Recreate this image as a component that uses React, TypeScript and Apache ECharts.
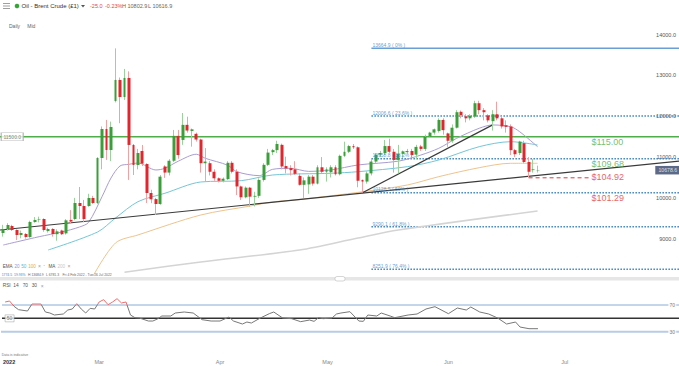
import React, { useEffect, useRef } from 'react';
import * as echarts from 'echarts';

const FONT = '"Liberation Sans", Arial, sans-serif';

// ---------- categories (trading sessions, Saturdays & Good Friday excluded) ----------
const SKIP_DAYS = ['2022-04-15'];
function tradingDays(start: string, count: number): string[] {
  const out: string[] = [];
  const d = new Date(start + 'T00:00:00Z');
  while (out.length < count) {
    const iso = d.toISOString().slice(0, 10);
    if (d.getUTCDay() !== 6 && !SKIP_DAYS.includes(iso)) out.push(iso);
    d.setUTCDate(d.getUTCDate() + 1);
  }
  return out;
}
const categories = tradingDays('2022-02-04', 151);
const MONTHS = ['Jan', 'Feb', 'Mar', 'Apr', 'May', 'Jun', 'Jul', 'Aug', 'Sep', 'Oct', 'Nov', 'Dec'];

// ---------- price data (OHLC) ----------
const opens = [9140,9238,9311,9213,9091,9115,9042,9409,9470,9483, 9189,9238,9110,9200,9130,9460,9483,9875,9801,9801, 9998,9875,10978,11689,11174,12375,12890,12473,12939,11297, 10806,11150,10830,10120,9970,9850,10770,10620,10910,11520, 11420,11790,11640,11570,11430,10850,10850,10640,10480,10420, 10460,10860,10640,10280,10015,10250,10030,10050,10440,10810, 11120,11170,11300,10780,10730,10700,10540,10320,10330,10520, 10350,10750,10640,10630,10750,10580,11030,11130,11270,11240, 10440,10400,10600,10890,11060,11100,11270,11130,10930,11080, 11120,11150,11060,11260,11200,11500,11600,11640,11910,11580, 11400,11720,12110,12000,11950,11990,12320,12150,12020,11880, 12050,11950,11780,11750,11170,11100,11340,10880,10680,10670];
const highs = [9340,9380,9340,9230,9200,9140,9440,9530,9540,9500, 9270,9260,9230,9220,9480,9700,10000,10267,9950,10100, 10050,11000,11750,11910,11870,13665,12950,13160,13100,11320, 11200,11297,10850,10200,10000,10560,10800,10950,11665,11665, 12080,11990,11700,11600,11450,11220,10900,10700,10500,10500, 10900,10900,10700,10300,10280,10270,10150,10480,10850,11200, 11200,11400,11330,11010,10800,10900,10600,10500,10560,10560, 10800,11000,10750,10800,10800,11060,11377,11300,11320,11260, 10450,10650,10950,11100,11150,11420,11450,11200,11300,11160, 11200,11200,11300,11300,11550,11620,11700,11950,11950,11600, 11800,12150,12140,12050,12050,12380,12380,12200,12050,12150, 12357,12000,11900,11800,11200,11400,11400,11000,10950,10790];
const lows = [9050,9200,9190,8968,9010,9000,9020,9390,9400,9170, 9150,9050,8950,9090,9100,9380,9450,9480,9400,9780, 9850,9850,10700,10930,10900,12340,11830,12400,10440,10560, 10700,10780,9875,9870,9580,9830,10490,10550,10880,10960, 11300,11600,11255,11380,10620,10400,10550,10420,10380,10380, 10440,10600,10070,9950,9990,9785,9790,10000,10400,10780, 11050,11100,10700,10600,10550,10560,10300,10000,10100,10300, 10330,10600,10400,10500,10550,10550,11000,11100,11200,10260, 10128,10350,10550,10850,11000,11050,11100,10620,10600,10980, 11080,11000,10950,11150,11150,11480,11550,11600,11550,11250, 11350,11700,11950,11850,11900,11960,12050,11900,11850,11650, 11900,11700,11600,11050,11000,11050,10850,10492,10620,10620];
const closes = [9238,9336,9213,9091,9140,9042,9409,9458,9483,9213, 9238,9115,9180,9110,9450,9420,9875,9801,9483,9998, 9875,10978,11689,11174,11738,12890,12473,12939,11297,10806, 11100,10840,10120,9965,9850,10520,10620,10910,11520,11050, 11790,11650,11680,11430,10850,10890,10640,10480,10420,10470, 10860,10640,10280,10015,10250,10030,10050,10440,10810,11110, 11170,11320,10770,10720,10680,10590,10320,10430,10520,10350, 10750,10640,10700,10750,10580,11030,11130,11270,11240,10420, 10400,10600,10890,11060,11100,11270,11130,10930,11080,11140, 11150,11050,11250,11200,11500,11600,11680,11910,11660,11400, 11720,12100,12030,11950,12010,12320,12150,12100,11900,12050, 11950,11750,11740,11170,11070,11380,10880,10640,10700,10679];

// ---------- moving averages [session index, value] ----------
const ema20 = [[0,8845],[8,9049],[13,9164],[17,9287],[19,9400],[22,10030],[24,10488],[26,10782],[28,10823],[30,10855],[34,10684],[36,10725],[39,10900],[43,11069],[45,10970],[50,10800],[52,10642],[57,10545],[60,10700],[64,10725],[68,10650],[73,10684],[79,10806],[88,10900],[93,11050],[97,11216],[101,11461],[106,11706],[109,11787],[113,11745],[115,11623],[119,11255]];
const ema50 = [[10,8723],[21,9164],[25,9507],[30,9907],[36,10113],[44,10390],[53,10422],[60,10561],[73,10603],[79,10642],[90,10765],[97,10929],[106,11255],[113,11377],[119,11297]];
const ema100 = [[20,8086],[25,8895],[30,9091],[44,9581],[55,9800],[60,9900],[66,9960],[80,10150],[90,10316],[97,10520],[106,10740],[113,10848],[119,10848]];
const ma200 = [[27,8180],[44,8429],[66,8723],[79,9017],[88,9213],[119,9679]];

// ---------- RSI(14) ----------
const rsi14 = [[0,74.5],[1,76],[2,68],[3,63],[5,61],[6,71.5],[8,71.5],[9,59.5],[10,58],[11,55],[13,56.5],[14,62.5],[15,64],[16,72],[17,64],[18,58],[19,65],[20,64],[21,74.5],[22,78],[23,70.5],[24,74.5],[25,79.5],[26,73],[27,74.5],[28,55],[29,51],[30,50.5],[32,46],[33,46],[34,49],[35,53.5],[37,53.5],[38,58],[40,59.5],[42,58],[44,48],[46,46],[48,46],[50,52],[51,46],[53,41.5],[54,44.5],[55,43],[57,50.5],[59,57],[60,59.5],[62,50.5],[64,49.5],[66,45],[68,47.5],[69,45.5],[70,51],[71,49.5],[73,50.5],[74,56.5],[75,58],[77,60],[79,46],[80,45.5],[81,55],[83,53.5],[84,58],[86,53.5],[87,51],[90,55],[92,56.5],[94,64],[96,67.5],[99,57],[101,65.5],[103,62.5],[104,67],[106,59.5],[108,56.5],[110,50.5],[112,41.5],[114,44.5],[115,37],[117,34.5],[119,34.5]];
const rsiLevels = [70, 50, 30];

// ---------- drawn levels ----------
const trendLong = [[-1, 9210], [151, 10909]];
const trendShort = [[80, 10128], [109, 11790]];
const fibValues = [13664.9, 12006.6, 10958.8, 10128.5, 9290.1, 8251.9];
const fibPct = ['0%', '23.6%', '38.2%', '50%', '61.8%', '76.4%'];
const fibStartIdx = 82;
const resistance = 11500;
const swingLow = 10492;
const lastPrice = 10678.6;
const tagValues = [11500, 10968, 10492, 10129];
const tagTexts = ['$115.00', '$109.68', '$104.92', '$101.29'];
const priceTicks = [9000, 10000, 11000, 12000, 13000, 14000];

const GREEN = '#4fae4a';
const RED = '#e2373d';
const FIB = '#3d85c6';
const tagColors = [GREEN, GREEN, RED, RED];
const tagDy = [5.6, 5.6, -0.6, 5];

function txt(x: number, y: number, text: string, fill: string, size: number, weight: string = 'normal') {
  return {
    type: 'text', x, y, silent: true, z: 100,
    style: { text, fill, fontSize: size, fontFamily: FONT, fontWeight: weight, verticalAlign: 'middle' },
  };
}

function hLine(name: string, pts: number[][], color: string, width: number, type: any, z: number, xi = 0) {
  return {
    type: 'line', name, xAxisIndex: xi, yAxisIndex: xi, data: pts, showSymbol: false, silent: true, z,
    lineStyle: { color, width, type },
  };
}

function buildOption() {
  const wickData = opens.map((o, i) => [o, closes[i], lows[i], highs[i]]);
  const bodyData = opens.map((o, i) => [o, closes[i], Math.min(o, closes[i]), Math.max(o, closes[i])]);

  const series: any[] = [];
  series.push(hLine('resistance', [[-1, resistance], [151, resistance]], GREEN, 1.5, 'solid', 1));
  fibValues.forEach((v, i) => {
    series.push(hLine('fib' + i, [[fibStartIdx, v], [151, v]], i === 0 ? '#6a9fd6' : FIB, 1.5, i === 0 ? 'solid' : [1.5, 1.5], 1));
  });
  series.push(hLine('swingLow', [[117, swingLow], [131, swingLow]], RED, 1, [4, 3], 1));
  series.push({ type: 'line', name: 'MA200', data: ma200, showSymbol: false, smooth: 0.3, silent: true, z: 2, lineStyle: { color: '#d4d4d4', width: 1.5 } });
  series.push({ type: 'line', name: 'EMA100', data: ema100, showSymbol: false, smooth: 0.3, silent: true, z: 2, lineStyle: { color: '#eec48c', width: 1 } });
  series.push({ type: 'line', name: 'EMA50', data: ema50, showSymbol: false, smooth: 0.3, silent: true, z: 2, lineStyle: { color: '#74c6d6', width: 1 } });
  series.push({ type: 'line', name: 'EMA20', data: ema20, showSymbol: false, smooth: 0.3, silent: true, z: 2, lineStyle: { color: '#a99dd0', width: 1 } });
  series.push(hLine('trend1', trendLong, '#3a3a3a', 1.2, 'solid', 3));
  series.push(hLine('trend2', trendShort, '#3a3a3a', 1.2, 'solid', 3));
  series.push({
    type: 'candlestick', name: 'wicks', data: wickData, barWidth: 0.2, z: 4, silent: true,
    itemStyle: { color: '#9bd29b', color0: '#f2a0a0', borderColor: '#9bd29b', borderColor0: '#f2a0a0', borderWidth: 1 },
  });
  series.push({
    type: 'candlestick', name: 'bodies', data: bodyData, barWidth: 3.4, z: 5, silent: true,
    itemStyle: { color: '#3b9e3b', color0: '#e3262d', borderColor: '#3b9e3b', borderColor0: '#e3262d', borderWidth: 0 },
  });
  const priceLabels: any[] = [
    {
      value: [2, resistance], symbol: 'rect', symbolSize: [22, 8],
      itemStyle: { color: '#ffffff', borderColor: '#aaaaaa', borderWidth: 0.8 },
      label: { show: true, position: 'inside', formatter: resistance.toFixed(1), color: '#666', fontSize: 5, fontFamily: FONT },
    },
    {
      value: [148, lastPrice], symbol: 'rect', symbolSize: [25, 8.5],
      itemStyle: { color: '#33456a' },
      label: { show: true, position: 'inside', formatter: lastPrice.toFixed(1), color: '#fff', fontSize: 5.2, fontFamily: FONT },
    },
    ...tagValues.map((v, i) => ({
      value: [131, v], symbol: 'circle', symbolSize: 0.1,
      itemStyle: { color: 'rgba(0,0,0,0)' },
      label: {
        show: true, position: 'right', distance: 0, offset: [0, tagDy[i]],
        formatter: tagTexts[i], color: tagColors[i], fontSize: 9, fontFamily: FONT,
      },
    })),
    ...fibValues.map((v, i) => ({
      value: [fibStartIdx, v], symbol: 'circle', symbolSize: 0.1,
      itemStyle: { color: 'rgba(0,0,0,0)' },
      label: {
        show: true, position: 'right', distance: 1, offset: [0, -3.3],
        formatter: `${v.toFixed(1)} ( ${fibPct[i]} )`, color: FIB, fontSize: 5, fontFamily: FONT,
      },
    })),
  ];
  series.push({ type: 'scatter', name: 'priceLabels', data: priceLabels, z: 10, silent: true });

  series.push(hLine('rsi70', [[-1, rsiLevels[0]], [151, rsiLevels[0]]], '#89acd3', 1, 'solid', 1, 1));
  series.push(hLine('rsi50', [[-1, rsiLevels[1]], [151, rsiLevels[1]]], '#333333', 1.5, 'solid', 1, 1));
  series.push(hLine('rsi30', [[-1, rsiLevels[2]], [151, rsiLevels[2]]], '#b7cde4', 2, 'solid', 1, 1));
  const rsiLabels: any[] = [
    {
      value: [149, rsiLevels[0]], symbol: 'rect', symbolSize: [8, 5], itemStyle: { color: '#fff' },
      label: { show: true, position: 'inside', formatter: String(rsiLevels[0]), color: '#555', fontSize: 5, fontFamily: FONT },
    },
    {
      value: [149, rsiLevels[2]], symbol: 'rect', symbolSize: [8, 5], itemStyle: { color: '#fff' },
      label: { show: true, position: 'inside', formatter: String(rsiLevels[2]), color: '#555', fontSize: 5, fontFamily: FONT },
    },
    {
      value: [1, rsiLevels[1]], symbol: 'rect', symbolSize: [9, 7],
      itemStyle: { color: '#fff', borderColor: '#999', borderWidth: 0.6 },
      label: { show: true, position: 'inside', formatter: String(rsiLevels[1]), color: '#555', fontSize: 5, fontFamily: FONT },
    },
  ];
  series.push({ type: 'scatter', name: 'rsiLabels', xAxisIndex: 1, yAxisIndex: 1, data: rsiLabels, z: 10, silent: true });
  series.push({
    type: 'line', name: 'RSI', xAxisIndex: 1, yAxisIndex: 1, data: rsi14, showSymbol: false, silent: true, z: 5,
    lineStyle: { width: 1 },
  });
  const rsiIndex = series.length - 1;

  const graphic: any[] = [
    { type: 'rect', silent: true, shape: { x: 3, y: 3, width: 7, height: 0.8 }, style: { fill: '#888' } },
    { type: 'rect', silent: true, shape: { x: 3, y: 5.6, width: 7, height: 0.8 }, style: { fill: '#888' } },
    { type: 'rect', silent: true, shape: { x: 3, y: 8.2, width: 7, height: 0.8 }, style: { fill: '#888' } },
    { type: 'circle', silent: true, shape: { cx: 17, cy: 6, r: 2.3 }, style: { fill: '#35a635' } },
    txt(21.5, 6, 'Oil - Brent Crude (£1)', '#333', 6),
    { type: 'polygon', silent: true, shape: { points: [[81, 5], [85, 5], [83, 7.5]] }, style: { fill: '#555' } },
    txt(90, 6, '-25.0', '#e0454a', 5.5),
    txt(105, 6, '-0.23%', '#e0454a', 5.5),
    txt(122, 6, 'H 10802.9', '#666', 5.5),
    txt(148, 6, 'L 10616.9', '#666', 5.5),
    txt(9, 26.3, 'Daily', '#666', 5),
    txt(27.3, 26.3, 'Mid', '#666', 5),
    // indicator legend
    txt(2.7, 266, 'EMA', '#555', 4.6),
    txt(14.5, 266, '20', '#9d8fce', 4.6),
    txt(21.3, 266, '50', '#56b9d0', 4.6),
    txt(28.2, 266, '100', '#e8a84a', 4.6),
    txt(38, 266, '×', '#999', 5),
    txt(43.5, 266, '•', '#bbb', 3.5),
    txt(48.5, 266, 'MA', '#555', 4.6),
    txt(57.5, 266, '200', '#c8c8c8', 4.6),
    txt(67.5, 266, '×', '#999', 5),
    txt(1.7, 275, '1774.5', FIB, 3.4),
    txt(14, 275, '19.93%', FIB, 3.4),
    txt(28, 275, 'H 13684.9', '#666', 3.4),
    txt(46, 275, 'L 6781.3', '#666', 3.4),
    txt(62.5, 275, 'Fri 4 Feb 2022 - Tue 26 Jul 2022', '#666', 3.4),
    // pane separator
    { type: 'rect', silent: true, z: 90, shape: { x: 0, y: 277, width: 679, height: 3.5 }, style: { fill: '#e6e6e6' } },
    { type: 'rect', silent: true, z: 91, shape: { x: 335, y: 276.5, width: 10, height: 4.5, r: 2 }, style: { fill: '#fff', stroke: '#bbb', lineWidth: 0.6 } },
    txt(2.7, 285.7, 'RSI', '#555', 4.8),
    txt(13.3, 285.7, '14', '#555', 4.8),
    txt(22.7, 285.7, '70', '#555', 4.8),
    txt(31.7, 285.7, '30', '#555', 4.8),
    txt(40.7, 285.7, '×', '#999', 5),
    txt(1.7, 355, 'Data is indicative', '#777', 3.5),
  ];

  return {
    animation: false,
    backgroundColor: '#ffffff',
    textStyle: { fontFamily: FONT },
    grid: [
      { left: 1, right: 0, top: 26.5, height: 253 },
      { left: 1, right: 0, top: 285, height: 66.7 },
    ],
    xAxis: [
      { type: 'category', gridIndex: 0, data: categories, boundaryGap: true, show: false },
      {
        type: 'category', gridIndex: 1, data: categories, boundaryGap: true,
        axisLine: { show: false }, axisTick: { show: false }, splitLine: { show: false },
        axisLabel: {
          interval: (i: number, v: string) => i === 0 || v.slice(5, 7) !== categories[i - 1].slice(5, 7),
          formatter: (v: string, i: number) => (i === 0 ? '{y|' + v.slice(0, 4) + '}' : MONTHS[Number(v.slice(5, 7)) - 1]),
          color: '#888', fontSize: 5.5, margin: 7.5, fontFamily: FONT,
          rich: { y: { color: '#333', fontSize: 5.5, fontWeight: 'bold', padding: [0, 0, 0, 8], fontFamily: FONT } },
        },
      },
    ],
    yAxis: [
      {
        type: 'value', gridIndex: 0, position: 'right', min: 8000, max: 14200, interval: 1000,
        axisLine: { show: false }, axisTick: { show: false }, splitLine: { show: false },
        axisLabel: {
          inside: true, margin: 3, fontSize: 5.5, color: '#555', fontFamily: FONT,
          formatter: (v: number) => (priceTicks.includes(v) ? v.toFixed(1) : ''),
        },
      },
      { type: 'value', gridIndex: 1, min: 0, max: 100, show: false, splitLine: { show: false } },
    ],
    visualMap: [
      {
        type: 'piecewise', show: false, seriesIndex: rsiIndex, dimension: 1,
        pieces: [
          { gte: 0, lte: 70, color: '#777777' },
          { gt: 70, lte: 100, color: '#f06b6b' },
        ],
      },
    ],
    series,
    graphic,
  };
}

export default function App() {
  const ref = useRef<HTMLDivElement>(null);
  useEffect(() => {
    const chart = echarts.init(ref.current as HTMLDivElement, undefined, { renderer: 'svg' });
    chart.setOption(buildOption() as any);
    return () => chart.dispose();
  }, []);
  return (
    <div
      ref={ref}
      style={{ position: 'fixed', left: 0, top: 0, width: 679, height: 366, background: '#fff' }}
    />
  );
}
